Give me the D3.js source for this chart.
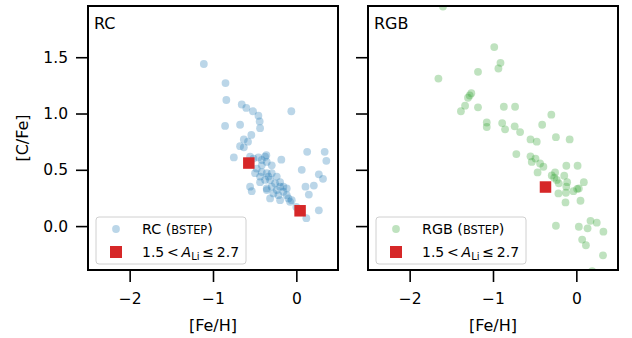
<!DOCTYPE html>
<html><head><meta charset="utf-8">
<script src="https://cdn.jsdelivr.net/npm/d3@7"></script>
<style>body{margin:0;background:#fff}svg{display:block;font-family:"DejaVu Sans",sans-serif}</style>
</head><body><svg id="c" width="632" height="338"></svg>
<script>
// ---- data ----
const rcFeH = [-1.11,-0.85,-0.84,-0.655,-0.60,-0.52,-0.455,-0.44,-0.435,-0.06,-0.855,-0.675,-0.54,-0.63,-0.58,-0.675,-0.63,-0.75,-0.36,-0.18,0.13,0.34,0.36,
 0.065,0.27,0.32,0.11,0.21,0.15,0.27,0.12,0.0,
 -0.555,-0.515,-0.455,-0.415,-0.375,-0.355,-0.295,-0.415,-0.475,-0.495,-0.415,-0.355,-0.295,-0.235,-0.315,-0.375,-0.435,-0.555,-0.535,-0.355,-0.295,-0.235,-0.195,-0.155,-0.275,-0.315,-0.215,-0.115,-0.095,-0.055,-0.195,-0.075,-0.255,-0.335,-0.195,-0.155,-0.435,-0.355,-0.115];
const rcCFe = [1.44,1.27,1.12,1.08,1.05,1.02,0.98,0.93,0.87,1.02,0.89,0.90,0.81,0.77,0.75,0.71,0.70,0.61,0.63,0.59,0.66,0.66,0.58,
 0.50,0.46,0.42,0.35,0.36,0.28,0.14,0.07,0.17,
 0.616,0.60,0.61,0.587,0.616,0.57,0.54,0.54,0.51,0.47,0.48,0.47,0.47,0.44,0.41,0.41,0.39,0.35,0.31,0.335,0.35,0.32,0.35,0.305,0.29,0.246,0.275,0.275,0.246,0.23,0.23,0.216,0.38,0.44,0.39,0.35,0.44,0.32,0.335];
const rgbFeH = [-1.60,-0.985,-0.91,-0.935,-1.18,-1.655,-1.26,-1.30,-1.28,-1.335,-1.385,-1.18,-0.87,-0.735,-0.30,-1.075,-1.075,-0.89,-0.855,-0.74,-0.675,-0.41,-0.245,-0.08,-0.55,-0.475,-0.72,-0.55,-0.49,
 -0.535,-0.435,-0.395,-0.465,-0.12,0.015,-0.255,-0.295,-0.265,-0.235,-0.145,-0.11,-0.21,-0.12,-0.035,0.03,0.09,-0.215,-0.125,-0.13,0.05,
 -0.245,0.03,0.135,0.17,0.245,0.325,0.07,0.115,0.32,0.19,0.01];
const rgbCFe = [1.95,1.59,1.45,1.40,1.37,1.31,1.18,1.14,1.16,1.07,1.02,1.055,1.06,1.06,0.99,0.92,0.88,0.915,0.86,0.886,0.835,0.90,0.79,0.77,0.77,0.75,0.64,0.62,0.60,
 0.57,0.556,0.527,0.477,0.536,0.536,0.477,0.45,0.43,0.41,0.447,0.39,0.38,0.35,0.31,0.335,0.39,0.29,0.296,0.21,0.225,
 0.003,-0.006,-0.02,0.047,0.03,-0.05,-0.12,-0.17,-0.26,-0.40,0.33];
const liRcFeH = [-0.57, 0.045];
const liRcCFe = [0.56, 0.136];
const liRgbFeH = [-0.37];
const liRgbCFe = [0.347];
const xTicks = [-2,-1,0];
const yTicks = [0.0,0.5,1.0,1.5];
const xDomain = [-2.5,0.5];
const yDomain = [-0.39,1.955];

// ---- drawing ----
const svg = d3.select("#c");
const plotTop = 6, plotBottom = 270;
const panels = [
  {x0:88,x1:338,label:"RC",fx:rcFeH,fy:rcCFe,lx:liRcFeH,ly:liRcCFe,color:"#1f77b4",leg:"RC"},
  {x0:368,x1:618,label:"RGB",fx:rgbFeH,fy:rgbCFe,lx:liRgbFeH,ly:liRgbCFe,color:"#2ca02c",leg:"RGB"}
];
const y = d3.scaleLinear().domain(yDomain).range([plotBottom, plotTop]);
const fmtX = d => d3.format("d")(d).replace("-", "\u2212");

panels.forEach((p,i)=>{
  const x = d3.scaleLinear().domain(xDomain).range([p.x0,p.x1]);
  const clipId = "clip"+i;
  svg.append("clipPath").attr("id",clipId).append("rect")
    .attr("x",p.x0).attr("y",plotTop).attr("width",p.x1-p.x0).attr("height",plotBottom-plotTop);
  const g = svg.append("g").attr("clip-path",`url(#${clipId})`);
  g.selectAll("circle").data(d3.range(p.fx.length)).join("circle")
    .attr("cx",k=>x(p.fx[k])).attr("cy",k=>y(p.fy[k])).attr("r",3.9)
    .attr("fill",p.color).attr("fill-opacity",0.3);
  const s = 11.5;
  g.selectAll("rect.li").data(d3.range(p.lx.length)).join("rect").attr("class","li")
    .attr("x",k=>x(p.lx[k])-s/2).attr("y",k=>y(p.ly[k])-s/2).attr("width",s).attr("height",s)
    .attr("fill","#d62728");

  // axes
  const xa = svg.append("g").attr("transform",`translate(0,${plotBottom})`)
    .call(d3.axisBottom(x).tickValues(xTicks).tickFormat(fmtX).tickSize(12).tickPadding(11));
  xa.select(".domain").remove();
  xa.selectAll("line").attr("stroke","#000").attr("stroke-width",1.6);
  xa.selectAll("text").attr("font-size","15.5px").attr("fill","#000").attr("font-family","DejaVu Sans");
  const ya = svg.append("g").attr("transform",`translate(${p.x0},0)`)
    .call(d3.axisLeft(y).tickValues(yTicks).tickFormat(i===0?d3.format(".1f"):()=>"").tickSize(12).tickPadding(8));
  ya.select(".domain").remove();
  ya.selectAll("line").attr("stroke","#000").attr("stroke-width",1.6);
  ya.selectAll("text").attr("font-size","15.5px").attr("fill","#000").attr("font-family","DejaVu Sans");

  // frame
  svg.append("rect").attr("x",p.x0).attr("y",plotTop).attr("width",p.x1-p.x0).attr("height",plotBottom-plotTop)
    .attr("fill","none").attr("stroke","#000").attr("stroke-width",2);

  svg.append("text").attr("x",p.x0+6).attr("y",29).attr("font-size","16px").text(p.label);
  svg.append("text").attr("x",(p.x0+p.x1)/2).attr("y",331).attr("text-anchor","middle")
    .attr("font-size","16px").text("[Fe/H]");

  // legend
  const lx = p.x0+8, ly = 217, lw = 150, lh = 47;
  svg.append("rect").attr("x",lx).attr("y",ly).attr("width",lw).attr("height",lh).attr("rx",3)
    .attr("fill","#fff").attr("fill-opacity",0.8).attr("stroke","#d0d0d0").attr("stroke-width",1);
  svg.append("circle").attr("cx",lx+20).attr("cy",ly+12).attr("r",3.9).attr("fill",p.color).attr("fill-opacity",0.3);
  svg.append("rect").attr("x",lx+20-6).attr("y",ly+35-6).attr("width",12).attr("height",12).attr("fill","#d62728");
  const t1 = svg.append("text").attr("x",lx+46).attr("y",ly+17).attr("font-size","14.3px");
  t1.append("tspan").text(p.leg+" (");
  t1.append("tspan").attr("font-size","11.4px").text("BSTEP");
  t1.append("tspan").text(")");
  const t2 = svg.append("text").attr("x",lx+46).attr("y",ly+40).attr("font-size","14px");
  t2.append("tspan").text("1.5\u2009<\u2009");
  t2.append("tspan").attr("font-style","italic").text("A");
  t2.append("tspan").attr("font-size","10px").attr("dy",3).text("Li");
  t2.append("tspan").attr("dy",-3).text("\u2009\u2264\u20092.7");
});

svg.append("text").attr("transform","translate(28,138) rotate(-90)").attr("text-anchor","middle")
  .attr("font-size","16px").text("[C/Fe]");
</script></body></html>
